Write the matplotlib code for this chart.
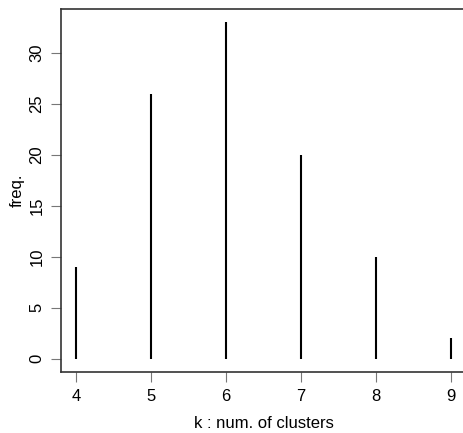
import matplotlib
matplotlib.use("Agg")
import matplotlib.pyplot as plt

# number of clusters k and how often each came up
k = [4, 5, 6, 7, 8, 9]
freq = [9, 26, 33, 20, 10, 2]
yticks = [0, 5, 10, 15, 20, 25, 30]

plt.rcParams["font.family"] = ["Liberation Sans", "DejaVu Sans"]

W, H = 464, 433
fig = plt.figure(figsize=(W / 100, H / 100), dpi=100)
# R-style box; the right edge runs off the image like in the original
ax = fig.add_axes([61 / W, (H - 372) / H, 405 / W, 363 / H])

ax.vlines(k, 0, freq, colors="black", lw=1.5)

ax.set_xlim(3.8, 9.2)
ax.set_ylim(-1.32, 34.32)
ax.set_xticks(k)
ax.set_yticks(yticks)
ax.tick_params(direction="out", length=7, width=0.8, color="#777777",
               labelsize=12, pad=5)
for lab in ax.get_yticklabels():
    lab.set_rotation(90)
    lab.set_va("center")

for s in ax.spines.values():
    s.set_color("#333333")
    s.set_linewidth(1.2)

ax.set_xlabel("k : num. of clusters", fontsize=12)
ax.set_ylabel("freq.", fontsize=12)
ax.xaxis.set_label_coords(0.5, -(423 - 372) / 363)
ax.yaxis.set_label_coords(-(61 - 17) / 405, 0.5)
ax.yaxis.label.set_va("center")
ax.xaxis.label.set_va("center")

fig.savefig("out.png", dpi=100)
